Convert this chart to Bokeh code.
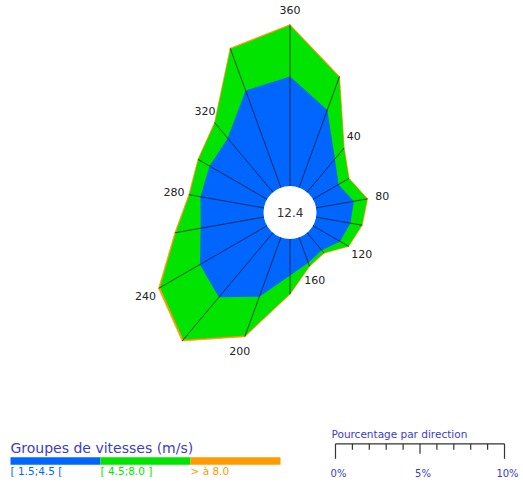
import numpy as np
from bokeh.plotting import figure
from bokeh.models import Range1d
from bokeh.embed import file_html
from bokeh.resources import INLINE
from bokeh.core.properties import value

# ---------------- data ----------------
directions = [0, 20, 40, 60, 80, 100, 120, 140, 160, 180, 200, 220, 240, 260, 280, 300, 320, 340]
pct_low = [6.48, 4.88, 2.57, 1.75, 2.27, 2.06, 1.85, 1.35, 1.60, 2.16, 3.74, 4.98, 4.59, 3.80, 3.81, 3.93, 4.17, 6.12]
pct_mid = [3.02, 2.07, 0.83, 0.70, 0.80, 0.69, 0.57, 0.20, 0.20, 1.08, 2.43, 3.28, 2.72, 1.49, 0.66, 0.76, 1.18, 2.61]
pct_high = [0.05, 0.05, 0.02, 0.02, 0.02, 0.02, 0.02, 0.02, 0.02, 0.03, 0.08, 0.10, 0.10, 0.06, 0.04, 0.03, 0.03, 0.05]
calm = 12.4
label_dirs = [0, 40, 80, 120, 160, 200, 240, 280, 320]
label_texts = ["360", "40", "80", "120", "160", "200", "240", "280", "320"]
speed_groups = ["[ 1.5;4.5 [", "[ 4.5;8.0 ]", "> à 8.0"]
scale_ticks = [0, 5, 10]
scale_labels = ["0%", "5%", "10%"]

# ---------------- style ----------------
BLUE = "#0066ff"
GREEN = "#00e400"
ORANGE = "#ff9a00"
colors = [BLUE, GREEN, ORANGE]
TXT_BLUE = "#3c3cc8"
FONT = value("DejaVu Sans")

W, H = 523, 482
S = 16.9            # pixels per percent
CX, CY = 289.5, 212.0
R0 = 26.5 / S       # inner (calm) circle radius


def X(px):
    return (px - CX) / S


def Y(py):
    return (CY - py) / S


p = figure(width=W, height=H, output_backend="svg", toolbar_location=None,
           x_range=Range1d(-CX / S, (W - CX) / S), y_range=Range1d((CY - H) / S, CY / S),
           x_axis_type=None, y_axis_type=None, min_border=0, outline_line_color=None)
p.background_fill_color = "white"

theta = np.radians(directions)
low = np.array(pct_low)
mid = np.array(pct_mid)
high = np.array(pct_high)
r1 = R0 + low
r2 = r1 + mid
r3 = r2 + high
sn, cs = np.sin(theta), np.cos(theta)

p.patch(list(r3 * sn), list(r3 * cs), fill_color=ORANGE, line_color=ORANGE, line_width=0.8)
p.patch(list(r2 * sn), list(r2 * cs), fill_color=GREEN, line_color=None)
p.patch(list(r1 * sn), list(r1 * cs), fill_color=BLUE, line_color=None)
p.circle(x=[0], y=[0], radius=R0, fill_color="white", line_color=None)
p.segment(x0=list(R0 * sn), y0=list(R0 * cs), x1=list(r3 * sn), y1=list(r3 * cs),
          line_color="#111111", line_width=0.7)
p.text(x=[0], y=[0], text=[f"{calm:.1f}"], text_align="center", text_baseline="middle",
       text_font=FONT, text_font_size="12px", text_color="#333333")

# direction labels
lab_idx = [directions.index(d) for d in label_dirs]
lab_r = r3[lab_idx] + 15.0 / S
lab_t = np.radians(label_dirs)
p.text(x=list(lab_r * np.sin(lab_t)), y=list(lab_r * np.cos(lab_t)), text=label_texts,
       text_align="center", text_baseline="middle", text_font=FONT,
       text_font_size="11px", text_color="#222222")

# ---------------- speed legend ----------------
p.text(x=[X(10)], y=[Y(447)], text=["Groupes de vitesses (m/s)"], text_align="left",
       text_baseline="middle", text_font=FONT, text_font_size="14px", text_color=TXT_BLUE)
seg_w = 90
lefts = [X(10 + i * seg_w) for i in range(3)]
rights = [X(10 + (i + 1) * seg_w) for i in range(3)]
p.quad(left=lefts, right=rights, top=Y(456.7), bottom=Y(464.3), fill_color=colors, line_color=None)
for i, g in enumerate(speed_groups):
    p.text(x=[X(10 + i * seg_w)], y=[Y(470)], text=[g], text_align="left", text_baseline="middle",
           text_font=FONT, text_font_size="10.5px", text_color=colors[i])

# ---------------- scale bar ----------------
sx0 = X(335)
sy = Y(443.3)
p.text(x=[X(331)], y=[Y(433)], text=["Pourcentage par direction"], text_align="left",
       text_baseline="middle", text_font=FONT, text_font_size="10.5px", text_color=TXT_BLUE)
p.segment(x0=[sx0], y0=[sy], x1=[sx0 + 10], y1=[sy], line_color="#333333", line_width=1.3)
tx = [sx0 + k for k in range(11)]
tlen = [15 if k in (0, 10) else (10 if k == 5 else 6) for k in range(11)]
p.segment(x0=tx, y0=[sy] * 11, x1=tx, y1=[sy - t / S for t in tlen], line_color="#333333",
          line_width=1.2)
p.text(x=[sx0 + t + 3 / S for t in scale_ticks], y=[Y(473)] * 3, text=scale_labels,
       text_align="center", text_baseline="middle", text_font=FONT, text_font_size="10px",
       text_color=TXT_BLUE)

open("out.html", "w").write(file_html(p, INLINE))
